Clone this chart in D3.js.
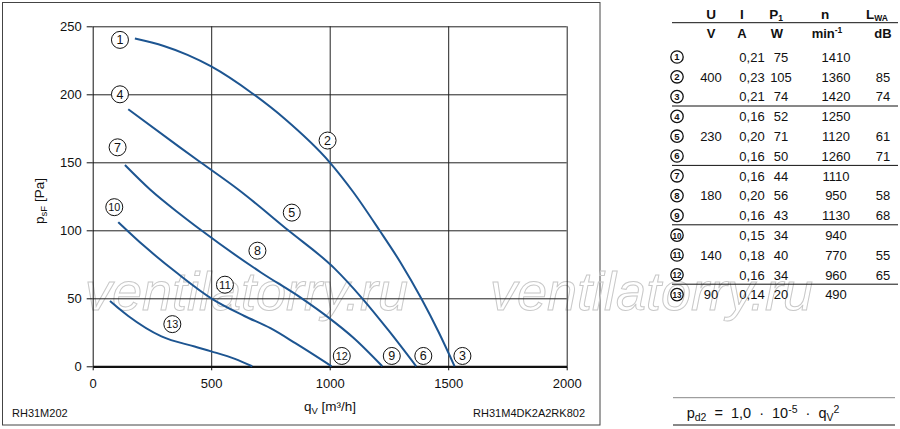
<html>
<head>
<title>RH31M fan curves</title>
<script src="https://d3js.org/d3.v7.min.js" charset="utf-8"></script>
<style>
body { margin: 0; background: white; font-family: "Liberation Sans", Arial, sans-serif; }
svg text { font-family: "Liberation Sans", Arial, sans-serif; fill: #111; }
.grid line { stroke: #222; stroke-width: 1; }
.grid path { display: none; }
.tick text { font-size: 13px; }
</style>
</head>
<body>
<script>
// air flow qV [m3/h] vs static pressure psF [Pa]
var curve1 = [[178,241],[300,235.5],[400,229],[500,220.5],[671,201],[810,182],[1000,150],[1100,128],[1210,100],[1300,76],[1386,50],[1460,25],[1527,0]];
var curve4 = [[150,189],[368,161],[455,150],[614,130],[825,100],[1020,72],[1137,50],[1250,26],[1365,0]];
var curve7 = [[136,148],[242,130],[368,112],[458,100],[710,69],[882,50],[994,36],[1100,21],[1222,0]];
var curve10 = [[108,106],[220,88],[360,68],[500,50],[640,37],[750,28],[855,17],[1008,0]];
var curve13 = [[73,48],[150,37],[290,22],[430,14.5],[500,11],[600,5.5],[673,0]];
var curves = [curve1, curve4, curve7, curve10, curve13];

// operating point labels: number, qV, psF
var labelNums = [1,2,3,4,5,6,7,8,9,10,11,12,13];
var labelQ = [115,991,1560,115,840,1395,105,695,1262,91,558,1051,336];
var labelP = [240,166,7.6,200,113,7.6,161,85,7.6,117,60,7.6,31];

var xTicks = [0,500,1000,1500,2000];
var yTicks = [0,50,100,150,200,250];

// table
var colU = ["","400","","","230","","","180","","","140","","90"];
var colI = ["0,21","0,23","0,21","0,16","0,20","0,16","0,16","0,20","0,16","0,15","0,18","0,16","0,14"];
var colP = [75,105,74,52,71,50,44,56,43,34,40,34,20];
var colN = [1410,1360,1420,1250,1120,1260,1110,950,1130,940,770,960,490];
var colL = ["","85","74","","61","71","","58","68","","55","65",""];
var groupEnds = [3,6,9,12];

var width = 900, height = 429;
var svg = d3.select("body").append("svg").attr("width", width).attr("height", height);

var x = d3.scaleLinear().domain([0,2000]).range([92.7,566.7]);
var y = d3.scaleLinear().domain([0,250]).range([366.3,26.3]);

// outer frame of the chart
svg.append("rect").attr("x",2.5).attr("y",2.5).attr("width",597.5).attr("height",422.5)
  .attr("fill","none").attr("stroke","#444").attr("stroke-width",1);

// watermark
[85, 490].forEach(function(wx){
  svg.append("text").attr("x",wx).attr("y",310)
    .attr("font-size",54).attr("font-style","italic")
    .attr("textLength",323).attr("lengthAdjust","spacingAndGlyphs")
    .style("fill","none").attr("stroke","#c8c8c8").attr("stroke-width",1)
    .text("ventilatorry.ru");
});

// grid
svg.append("g").attr("class","grid").attr("transform","translate(92.7,0)")
  .call(d3.axisRight(y).tickValues(yTicks.slice(1)).tickSize(474).tickFormat(""));
svg.append("g").attr("class","grid").attr("transform","translate(0,26.3)")
  .call(d3.axisBottom(x).tickValues(xTicks.slice(1)).tickSize(340).tickFormat(""));

// axes
var yAxis = svg.append("g").attr("transform","translate(92.7,0)")
  .call(d3.axisLeft(y).tickValues(yTicks).tickSize(6).tickSizeOuter(0).tickPadding(5).tickFormat(d3.format("d")));
yAxis.select(".domain").attr("stroke","#111");
yAxis.selectAll(".tick line").attr("stroke","#111");

var xAxis = svg.append("g").attr("transform","translate(0,366.3)")
  .call(d3.axisBottom(x).tickValues(xTicks).tickSize(4).tickSizeOuter(0).tickPadding(8.5).tickFormat(d3.format("d")));
xAxis.select(".domain").attr("stroke","#111").attr("stroke-width",2.2);
xAxis.selectAll(".tick line").attr("stroke","#111");
svg.selectAll(".tick text").style("fill","#111");

// curves
var line = d3.line().x(function(d){ return x(d[0]); }).y(function(d){ return y(d[1]); })
  .curve(d3.curveMonotoneX);
svg.append("g").selectAll("path").data(curves).enter().append("path")
  .attr("d", line).attr("fill","none").attr("stroke","#1d5591").attr("stroke-width",2);

// circled numbers on the chart
var lab = svg.append("g").selectAll("g").data(labelNums).enter().append("g")
  .attr("transform", function(d,i){ return "translate(" + x(labelQ[i]) + "," + y(labelP[i]) + ")"; });
lab.append("circle").attr("r",8.5).attr("fill","white").attr("stroke","#111").attr("stroke-width",1);
lab.append("text").attr("text-anchor","middle").attr("y",4.3)
  .attr("font-size", function(d){ return d > 9 ? 11.5 : 12.5; })
  .attr("textLength", function(d){ return d > 9 ? 12 : null; })
  .attr("lengthAdjust","spacingAndGlyphs")
  .text(function(d){ return d; });

// axis titles
var yt = svg.append("text").attr("transform","translate(44,201) rotate(-90)")
  .attr("text-anchor","middle").attr("font-size",13.5);
yt.append("tspan").text("p");
yt.append("tspan").attr("font-size",9.5).attr("dy",3).text("sF");
yt.append("tspan").attr("dy",-3).text(" [Pa]");

var xt = svg.append("text").attr("x",330).attr("y",411).attr("text-anchor","middle").attr("font-size",13.5);
xt.append("tspan").text("q");
xt.append("tspan").attr("font-size",9.5).attr("dy",3).text("V");
xt.append("tspan").attr("dy",-3).text(" [m³/h]");

svg.append("text").attr("x",12).attr("y",417).attr("font-size",11).text("RH31M202");
svg.append("text").attr("x",585).attr("y",417).attr("font-size",11).attr("text-anchor","end").text("RH31M4DK2A2RK802");

// table
var tx0 = 672, tx1 = 898;
var cx = {num:677, u:711, i:752, p:781, n:836, l:883};
var rowY = d3.scaleLinear().domain([0,12]).range([57,294.6]);
var tab = svg.append("g");

var h1 = [["U",711],["I",742],["P",776],["n",825],["L",877]];
h1.forEach(function(h){
  var t = tab.append("text").attr("x",h[1]).attr("y",19.3).attr("text-anchor","middle")
    .attr("font-size",13.5).attr("font-weight","bold");
  t.append("tspan").text(h[0]);
  if (h[0] == "P") t.append("tspan").attr("font-size",8.5).attr("dy",2).text("1");
  if (h[0] == "L") t.append("tspan").attr("font-size",8.5).attr("dy",2).text("WA");
});
var h2 = [["V",711],["A",742],["W",777],["min",827],["dB",883]];
h2.forEach(function(h){
  var t = tab.append("text").attr("x",h[1]).attr("y",38.3).attr("text-anchor","middle")
    .attr("font-size",13).attr("font-weight","bold");
  t.append("tspan").text(h[0]);
  if (h[0] == "min") t.append("tspan").attr("font-size",8.5).attr("dy",-5).text("-1");
});
tab.append("line").attr("x1",tx0).attr("x2",tx1).attr("y1",22.7).attr("y2",22.7)
  .attr("stroke","#111").attr("stroke-width",1);

groupEnds.forEach(function(g){
  var yy = (rowY(g-1) + rowY(g)) / 2 - 0.5;
  tab.append("line").attr("x1",tx0).attr("x2",tx1).attr("y1",yy).attr("y2",yy)
    .attr("stroke","#111").attr("stroke-width",1);
});

var rows = tab.selectAll("g.row").data(labelNums).enter().append("g")
  .attr("transform", function(d,i){ return "translate(0," + rowY(i) + ")"; });
rows.append("circle").attr("cx",cx.num).attr("r",6.2).attr("fill","white")
  .attr("stroke","#111").attr("stroke-width",1.3);
rows.append("text").attr("x",cx.num).attr("y",3.3).attr("text-anchor","middle")
  .attr("font-weight","bold").attr("font-size", function(d){ return d > 9 ? 8.5 : 9.5; })
  .attr("textLength", function(d){ return d > 9 ? 9 : null; })
  .attr("lengthAdjust","spacingAndGlyphs")
  .text(function(d){ return d; });
function col(arr, xx){
  rows.append("text").attr("x",xx).attr("y",4.7).attr("text-anchor","middle").attr("font-size",13)
    .text(function(d,i){ return arr[i]; });
}
col(colU, cx.u); col(colI, cx.i); col(colP, cx.p); col(colN, cx.n); col(colL, cx.l);

// dynamic pressure formula
tab.append("line").attr("x1",673).attr("x2",895).attr("y1",397.7).attr("y2",397.7)
  .attr("stroke","#888").attr("stroke-width",1);
tab.append("line").attr("x1",673).attr("x2",895).attr("y1",425).attr("y2",425)
  .attr("stroke","#111").attr("stroke-width",1);
var f = tab.append("text").attr("x",763).attr("y",418).attr("text-anchor","middle")
  .attr("font-size",14.5).attr("word-spacing",4);
f.append("tspan").text("p");
f.append("tspan").attr("font-size",10.5).attr("dy",3).text("d2");
f.append("tspan").attr("dy",-3).text(" = 1,0 · 10");
f.append("tspan").attr("font-size",10.5).attr("dy",-5).text("-5");
f.append("tspan").attr("dy",5).text(" · q");
f.append("tspan").attr("font-size",10.5).attr("dy",3).text("V");
f.append("tspan").attr("font-size",10.5).attr("dy",-8).text("2");
</script>
</body>
</html>
